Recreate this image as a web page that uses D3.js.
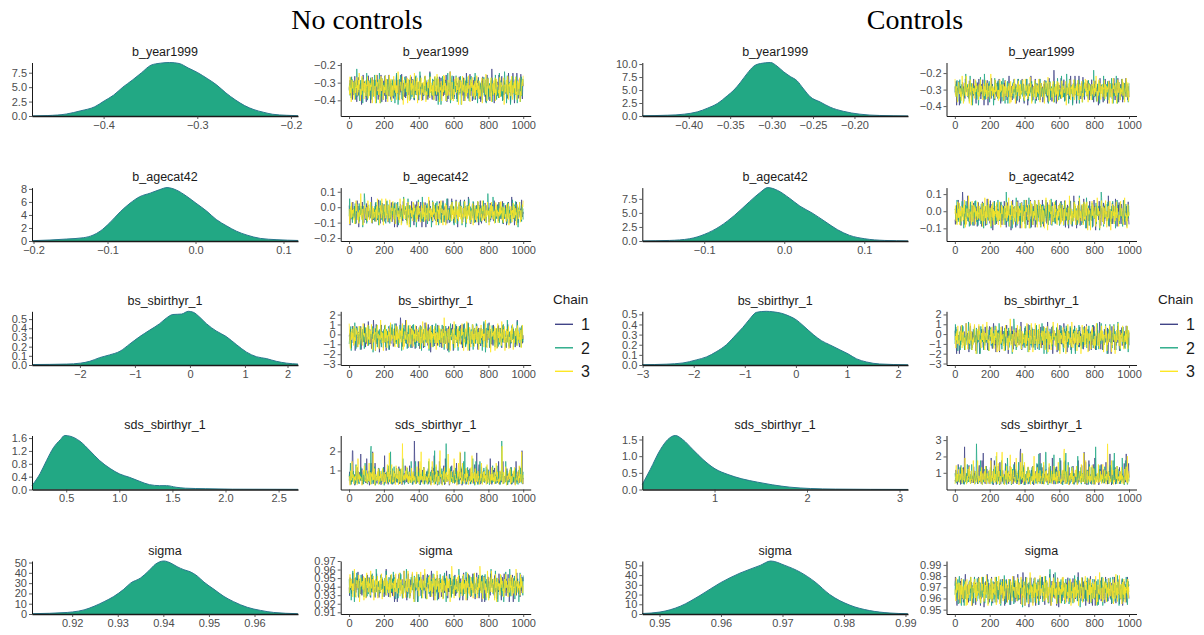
<!DOCTYPE html>
<html>
<head>
<meta charset="utf-8">
<script src="https://cdn.jsdelivr.net/npm/d3@7"></script>
<style>
  body { margin: 0; background: #fff; }
  svg text { font-family: "Liberation Sans", Arial, sans-serif; }
</style>
</head>
<body>
<svg id="chart" width="1204" height="635"></svg>
<script>
// ---- data ----
const panelTitles = ["No controls", "Controls"];
const params = ["b_year1999", "b_agecat42", "bs_sbirthyr_1", "sds_sbirthyr_1", "sigma"];
const chains = ["1", "2", "3"];
const iterMax = 1000;

// posterior densities, [value, density]
const densNoCtrlYear = [[-0.477,0.02],[-0.46,0.08],[-0.44,0.35],[-0.425,0.9],[-0.41,1.6],[-0.40,2.6],[-0.39,3.6],[-0.38,5.0],[-0.37,6.2],[-0.36,7.5],[-0.35,8.8],[-0.34,9.15],[-0.33,9.27],[-0.32,9.1],[-0.31,8.3],[-0.30,7.5],[-0.29,6.5],[-0.28,5.4],[-0.27,4.0],[-0.26,2.8],[-0.25,1.8],[-0.24,1.1],[-0.23,0.65],[-0.22,0.3],[-0.205,0.12],[-0.193,0.05]];
const densNoCtrlAge = [[-0.186,0.05],[-0.166,0.15],[-0.147,0.3],[-0.128,0.5],[-0.117,0.9],[-0.109,1.5],[-0.098,2.8],[-0.086,4.5],[-0.075,5.8],[-0.064,6.8],[-0.052,7.35],[-0.041,7.9],[-0.033,8.2],[-0.022,7.8],[-0.011,6.9],[0.0,5.8],[0.012,4.6],[0.023,3.3],[0.035,2.3],[0.046,1.5],[0.058,0.9],[0.073,0.4],[0.092,0.2],[0.116,0.08]];
const densNoCtrlBs = [[-2.88,0.005],[-2.25,0.01],[-2.0,0.02],[-1.83,0.04],[-1.65,0.08],[-1.47,0.11],[-1.28,0.15],[-1.1,0.23],[-0.92,0.31],[-0.74,0.38],[-0.56,0.45],[-0.44,0.51],[-0.32,0.55],[-0.16,0.555],[-0.04,0.585],[0.05,0.575],[0.17,0.52],[0.29,0.45],[0.47,0.37],[0.65,0.31],[0.84,0.22],[1.02,0.14],[1.2,0.09],[1.38,0.07],[1.56,0.04],[1.75,0.02],[1.955,0.01]];
const densNoCtrlSds = [[0.173,0.12],[0.25,0.5],[0.31,0.9],[0.375,1.3],[0.44,1.55],[0.48,1.68],[0.53,1.66],[0.625,1.5],[0.72,1.2],[0.81,0.9],[0.91,0.65],[1.0,0.48],[1.09,0.38],[1.19,0.25],[1.28,0.15],[1.375,0.12],[1.44,0.12],[1.53,0.07],[1.62,0.04],[1.81,0.025],[2.06,0.01],[2.678,0.005]];
const densNoCtrlSigma = [[0.9111,0.3],[0.9188,1.5],[0.920,2],[0.9225,4],[0.9247,7.5],[0.9269,12],[0.929,17],[0.9312,24],[0.9327,30],[0.9349,35],[0.9367,42],[0.9382,48.5],[0.940,51.5],[0.9415,49.5],[0.9429,46],[0.9444,43],[0.9458,41],[0.9473,37],[0.9488,31],[0.951,24],[0.9532,17],[0.9553,12],[0.9583,6.5],[0.9612,3.5],[0.9641,1.5],[0.9694,0.3]];

const densCtrlYear = [[-0.4566,0.05],[-0.426,0.15],[-0.406,0.35],[-0.39,0.8],[-0.378,1.5],[-0.366,2.4],[-0.354,3.9],[-0.346,5.0],[-0.338,6.5],[-0.33,8.2],[-0.322,9.6],[-0.314,10.1],[-0.302,10.3],[-0.294,9.6],[-0.286,8.5],[-0.278,7.6],[-0.27,6.8],[-0.262,5.2],[-0.254,3.7],[-0.242,2.7],[-0.23,1.7],[-0.214,0.9],[-0.194,0.35],[-0.17,0.1],[-0.136,0.02]];
const densCtrlAge = [[-0.178,0.02],[-0.144,0.1],[-0.119,0.4],[-0.1,1.2],[-0.081,2.6],[-0.0625,4.6],[-0.044,7.0],[-0.031,8.6],[-0.021,9.5],[-0.009,9.0],[0.006,7.6],[0.019,6.2],[0.034,5.0],[0.05,3.5],[0.066,2.0],[0.081,1.0],[0.1,0.4],[0.125,0.1],[0.154,0.02]];
const densCtrlBs = [[-3.016,0.003],[-2.55,0.008],[-2.22,0.02],[-1.96,0.05],[-1.76,0.08],[-1.57,0.13],[-1.37,0.2],[-1.18,0.3],[-1.05,0.37],[-0.92,0.45],[-0.78,0.52],[-0.59,0.53],[-0.46,0.525],[-0.29,0.51],[-0.13,0.48],[0,0.445],[0.13,0.39],[0.33,0.3],[0.49,0.24],[0.65,0.2],[0.85,0.15],[1.01,0.11],[1.18,0.06],[1.37,0.03],[1.63,0.01],[2.184,0.002]];
const densCtrlSds = [[0.214,0.15],[0.3,0.6],[0.41,1.2],[0.49,1.5],[0.57,1.62],[0.65,1.5],[0.76,1.2],[0.87,0.9],[1.0,0.62],[1.14,0.45],[1.29,0.32],[1.46,0.22],[1.62,0.14],[1.81,0.07],[2.03,0.03],[2.3,0.012],[2.68,0.005],[3.086,0.002]];
const densCtrlSigma = [[0.9471,0.5],[0.95,2],[0.9533,8],[0.9565,19],[0.9598,32],[0.963,42],[0.9663,50],[0.968,54.5],[0.9703,50],[0.9728,43],[0.9752,33],[0.9776,20],[0.9809,9],[0.9841,3.5],[0.9874,1],[0.9903,0.3]];

// x limits of the density panels
const densXNoCtrl = [[-0.477,-0.193],[-0.1864,0.1159],[-2.88,1.955],[0.173,2.678],[0.91108,0.96943]];
const densXCtrl = [[-0.4566,-0.136],[-0.178,0.154],[-3.016,2.184],[0.214,3.086],[0.94712,0.99033]];

// tick labels
const densXTicksNoCtrl = [["-0.4","-0.3","-0.2"],["-0.2","-0.1","0.0","0.1"],["-2","-1","0","1","2"],["0.5","1.0","1.5","2.0","2.5"],["0.92","0.93","0.94","0.95","0.96"]];
const densXTicksCtrl = [["-0.40","-0.35","-0.30","-0.25","-0.20"],["-0.1","0.0","0.1"],["-3","-2","-1","0","1","2"],["1","2","3"],["0.95","0.96","0.97","0.98","0.99"]];
const densYTicksNoCtrl = [["0.0","2.5","5.0","7.5"],["0","2","4","6","8"],["0.0","0.1","0.2","0.3","0.4","0.5"],["0.0","0.4","0.8","1.2","1.6"],["0","10","20","30","40","50"]];
const densYTicksCtrl = [["0.0","2.5","5.0","7.5","10.0"],["0.0","2.5","5.0","7.5"],["0.0","0.1","0.2","0.3","0.4","0.5"],["0.0","0.5","1.0","1.5"],["0","10","20","30","40","50"]];
const traceXTicks = ["0","200","400","600","800","1000"];
const traceYTicksNoCtrl = [["-0.2","-0.3","-0.4"],["0.1","0.0","-0.1","-0.2"],["2","1","0","-1","-2","-3"],["2","1"],["0.97","0.96","0.95","0.94","0.93","0.92","0.91"]];
const traceYTicksCtrl = [["-0.2","-0.3","-0.4"],["0.1","0.0","-0.1"],["2","1","0","-1","-2","-3"],["3","2","1"],["0.99","0.98","0.97","0.96","0.95"]];

// y limits of the trace panels
const traceYNoCtrl = [[-0.4887,-0.1859],[-0.219,0.127],[-3.09,2.33],[0,2.83],[0.908,0.97]];
const traceYCtrl = [[-0.46,-0.136],[-0.174,0.138],[-3.15,2.32],[-0.02,3.28],[0.9461,0.9935]];

// thinned draws as percentile digits: each pair of neighbouring characters is one
// draw's percentile (a, b = far upper tail), placed through that parameter's density
const drawPool = [
  "52839174066281937450382916645720183952774610385294716302859147736208419530671284950362781594032867149538206713",
  "37164092855173820649913752046831790254668132970534418290675312849567023184569730214885067329416078532914670385",
  "61925038477310682549162839750421936850732814659208147365590278314602957734186025934871062539418720346951287046",
  "84027361593372816045958201736644193820575136908247315622980471356390847125967304285914630872159433062781549207",
  "29746183056418290375624519083736820154997613045286341879205643170829356148027395614208837261045951328704162839",
  "70358192644712036958813504627991437025864317720958413693205817452366081974350285619743028561973420854196320758",
  "46281057391638402579063715482903364721958063142097558136042719853602941377260158493724051869302471586039214875",
  "13579024687531962048854612790336718259041875632409127563348901652784193065728149306257481923068174590321678594",
  "95104728366091423857740659123387210956463218750934281675940326185702478936104529837165024819376052384710962543",
  "40862713595238406172839605734128093566721840539271864305928417623058194463705216893827450613298745106382791530",
  "81365024797430128659546078213392857140628365907412853067189435520761984307256143928706531842097263158740692318",
  "15937482606249831057743692015846573290286104953718462097356819024381756904327618594032176485509273416280579336",
  "72490163589015736248837120946537462091856303281947561025876394417082659320147586392018475630958241370692415873",
  "36815920474593028167260417398558136204972385017464239180756013829647315240986073518246903715782460139528674091",
  "94157203688326140597502386419741658302937015846261093857423068159374520684173925086143752098461736250938472150",
  "20738461954681205379931607582424986137056217834905623718045916273580492381647054296318750942638017593462085714",
  "67240958131874062593460271859328153604792846105372939461280575324087617902435816064918237350287416593062148795",
  "48315069272906358147618495032073529861446079312856807346192548235716904381597260843296157604832917063548291640",
  "83920174565012793864256804139737461025894138076529460317825593016248736081549275320416893574210689735140286357",
  "19642870353780416295937204615842169830576204318759264390152847701936528804613725946203857491362708153947260814",
  "56073819422148369507681352049763058241973680415279632015874396824107539628104753986241036587192473061854930276",
  "69481027357305869214406138975212740683594837021659480315726946830215794370162854397128065732941056283719406852",
  "28571639048954710263379028514664213587093716248059436170925831580426731942805617832904561379024685137062948315",
  "52093764813480572916661374850290317428569402165837917608243589312059476340815729684023571469208153762941038674"
];
const spikyPool = [
  "582036179a5572014836920758163b26903178455120986734201859637a48051963320746918575023461892b07645819032751846203",
  "2749603581846270395114683057292735180461965823041785269a704812569301642758390461237855920143678260947315b42069",
  "630185297471053628940298371645530128769423186075249618037582a3490167254829036184732590468157320695814b37068951",
  "318576029466390284157904b8265372854937160826350917482635104789321605972a43610592874326051749832601597843026719",
  "752083461914627930588350261476094315827063941258460372b9580624139768502314687392054618273906451038762914a07382",
  "046931725861273459087634198520362875914068341297503682145970624381590274368159203746128503971648250937216a5049"
];

// which pool and which pieces make up each chain
const poolNoCtrl = [drawPool, drawPool, drawPool, spikyPool, drawPool];
const poolCtrl = [drawPool, drawPool, drawPool, spikyPool, drawPool];
const piecesNoCtrl = [
  [[0,9,17,5],[1,10,18,6],[2,11,19,7]],
  [[3,12,20,8],[4,13,21,15],[5,14,22,16]],
  [[6,15,23,9],[7,16,0,10],[8,17,1,11]],
  [[0,4,2,5],[1,5,3,4],[2,3,0,1]],
  [[9,18,2,12],[10,19,3,13],[11,20,4,14]]
];
const piecesCtrl = [
  [[12,21,5,0],[13,22,6,1],[14,23,7,2]],
  [[15,0,8,3],[16,1,9,4],[17,2,10,18]],
  [[18,3,11,19],[19,4,12,20],[20,5,13,21]],
  [[3,1,5,2],[4,2,0,3],[5,0,1,4]],
  [[21,6,14,22],[22,7,15,23],[23,8,16,17]]
];

// ---- layout & style ----
const chainColors = ["#414487", "#22A884", "#FDE725"];
const densFill = "#22A884", densLine = "#2A788E";
const rowTop = [62.5, 187.6, 311.3, 435.5, 561];
const rowBottom = [116, 241, 365, 489.5, 614];

const panels = [
  { title: panelTitles[0], titleX: 357,
    dens: [densNoCtrlYear, densNoCtrlAge, densNoCtrlBs, densNoCtrlSds, densNoCtrlSigma],
    densX: densXNoCtrl, densXTicks: densXTicksNoCtrl, densYTicks: densYTicksNoCtrl,
    traceY: traceYNoCtrl, traceYTicks: traceYTicksNoCtrl,
    pools: poolNoCtrl, pieces: piecesNoCtrl,
    densCol: [32, 298], traceCol: [340.7, 530.7], legendX: 553 },
  { title: panelTitles[1], titleX: 915,
    dens: [densCtrlYear, densCtrlAge, densCtrlBs, densCtrlSds, densCtrlSigma],
    densX: densXCtrl, densXTicks: densXTicksCtrl, densYTicks: densYTicksCtrl,
    traceY: traceYCtrl, traceYTicks: traceYTicksCtrl,
    pools: poolCtrl, pieces: piecesCtrl,
    densCol: [642.3, 908], traceCol: [946.5, 1136.5], legendX: 1158 }
];

const svg = d3.select("#chart");
const num = s => +s;
const lab = s => s.replace("-", "\u2212");

// percentile -> value, read through the cumulative of the density curve
function quantileScale(dens) {
  const cum = [0];
  for (let i = 1; i < dens.length; i++) {
    cum.push(cum[i - 1] + (dens[i][1] + dens[i - 1][1]) / 2 * (dens[i][0] - dens[i - 1][0]));
  }
  const total = cum[cum.length - 1];
  return d3.scaleLinear().domain(cum.map(c => c / total)).range(dens.map(d => d[0])).clamp(true);
}

// two characters -> percentile; a/b in front mark the far upper tail
function percentile(a, b) {
  if (a >= 10) return 0.99 + (b % 10) / 1000;
  if (b >= 10) return (a * 10 + 9.5) / 100;
  return (a * 10 + b + 0.5) / 100;
}

function styleAxis(g, domainWidth) {
  g.select(".domain").attr("stroke", "#1a1a1a").attr("stroke-width", domainWidth);
  g.selectAll(".tick line").attr("stroke", "#333").attr("stroke-width", 0.8);
  g.selectAll(".tick text").attr("fill", "#4d4d4d").style("font-size", "11px")
    .style("font-family", "'Liberation Sans', Arial, sans-serif");
}

// ticks that fall just outside the panel are pulled back onto its edge
function clampX(g, scale) {
  const [d0, d1] = scale.domain(), [r0, r1] = scale.range();
  g.selectAll(".tick").attr("transform", d => {
    let x = scale(d);
    if (d < d0) x = r0 + 2;
    if (d > d1) x = r1 - 10;
    return `translate(${x},0)`;
  });
}

function facetTitle(x, y, text) {
  svg.append("text").attr("x", x).attr("y", y).attr("text-anchor", "middle")
    .style("font-size", "12.5px").attr("fill", "#1a1a1a").text(text);
}

panels.forEach(p => {
  svg.append("text").attr("x", p.titleX).attr("y", 29).attr("text-anchor", "middle")
    .style("font-family", "'Liberation Serif', 'Times New Roman', serif")
    .style("font-size", "28px").attr("fill", "#000").text(p.title);

  params.forEach((name, r) => {
    const top = rowTop[r], bottom = rowBottom[r];

    // density
    const dens = p.dens[r];
    const x = d3.scaleLinear().domain(p.densX[r]).range(p.densCol);
    const y = d3.scaleLinear().domain([0, d3.max(dens, d => d[1])]).range([bottom, top]);
    const gD = svg.append("g");
    gD.append("path").datum(dens)
      .attr("fill", densFill)
      .attr("d", d3.area().curve(d3.curveMonotoneX).x(d => x(d[0])).y0(bottom).y1(d => y(d[1])));
    gD.append("path").datum(dens)
      .attr("fill", "none").attr("stroke", densLine).attr("stroke-width", 1)
      .attr("d", d3.line().curve(d3.curveMonotoneX).x(d => x(d[0])).y(d => y(d[1])));

    const xt = p.densXTicks[r], yt = p.densYTicks[r];
    const gx = gD.append("g").attr("transform", `translate(0,${bottom})`)
      .call(d3.axisBottom(x).tickValues(xt.map(num)).tickFormat((d, i) => lab(xt[i]))
        .tickSize(3).tickSizeOuter(0).tickPadding(2));
    clampX(gx, x);
    styleAxis(gx, 1.6);
    const gy = gD.append("g").attr("transform", `translate(${p.densCol[0]},0)`)
      .call(d3.axisLeft(y).tickValues(yt.map(num)).tickFormat((d, i) => lab(yt[i]))
        .tickSize(3).tickSizeOuter(0).tickPadding(2));
    styleAxis(gy, 1);
    facetTitle((p.densCol[0] + p.densCol[1]) / 2, top - 6.5, name);

    // trace
    const tx = d3.scaleLinear().domain([-48, 1043]).range(p.traceCol);
    const ty = d3.scaleLinear().domain(p.traceY[r]).range([bottom, top]);
    const q = quantileScale(dens);
    const pool = p.pools[r];
    const gT = svg.append("g");
    p.pieces[r].forEach((pieces, c) => {
      const chars = pieces.map(k => pool[k]).join("").split("").map(ch => parseInt(ch, 36));
      const draws = d3.pairs(chars, (a, b) => q(percentile(a, b)));
      const n = draws.length;
      gT.append("path").datum(draws)
        .attr("fill", "none").attr("stroke", chainColors[c]).attr("stroke-width", 0.75)
        .attr("d", d3.line()
          .x((d, i) => tx(1 + i * (iterMax - 1) / (n - 1)))
          .y(d => ty(d)));
    });
    const tyt = p.traceYTicks[r];
    const gtx = gT.append("g").attr("transform", `translate(0,${bottom})`)
      .call(d3.axisBottom(tx).tickValues(traceXTicks.map(num)).tickFormat((d, i) => traceXTicks[i])
        .tickSize(3).tickSizeOuter(0).tickPadding(2));
    styleAxis(gtx, 1);
    const gty = gT.append("g").attr("transform", `translate(${p.traceCol[0]},0)`)
      .call(d3.axisLeft(ty).tickValues(tyt.map(num)).tickFormat((d, i) => lab(tyt[i]))
        .tickSize(3).tickSizeOuter(0).tickPadding(2));
    styleAxis(gty, 1);
    facetTitle((p.traceCol[0] + p.traceCol[1]) / 2, top - 6.5, name);
  });

  // legend
  const lg = svg.append("g").attr("transform", `translate(${p.legendX},0)`);
  lg.append("text").attr("x", 0).attr("y", 304).style("font-size", "13.5px")
    .attr("fill", "#1a1a1a").text("Chain");
  chains.forEach((c, i) => {
    const yy = 324.3 + i * 23.5;
    lg.append("line").attr("x1", 2).attr("x2", 20).attr("y1", yy).attr("y2", yy)
      .attr("stroke", chainColors[i]).attr("stroke-width", 1.4);
    lg.append("text").attr("x", 28).attr("y", yy + 6).style("font-size", "16px")
      .attr("fill", "#1a1a1a").text(c);
  });
});
</script>
</body>
</html>
